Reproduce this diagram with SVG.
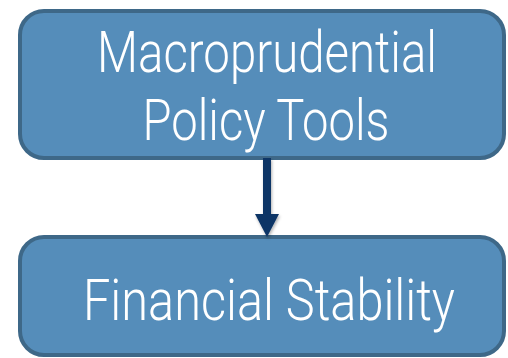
<svg xmlns="http://www.w3.org/2000/svg" width="508" height="358" viewBox="0 0 508 358">
  <style>
    .box { fill: #558dba; stroke: #3e6888; stroke-width: 4; }
    .label { font-family: Roboto, "Liberation Sans Narrow", "Liberation Sans", sans-serif; font-weight: 300; font-size: 57px; fill: #ffffff; text-anchor: middle; }
  </style>
  <defs>
    <filter id="shadow" x="-50%" y="-20%" width="200%" height="150%">
      <feDropShadow dx="1" dy="2" stdDeviation="1.5" flood-color="#000" flood-opacity="0.3"/>
    </filter>
  </defs>

  <g id="node-tools">
    <rect class="box" x="20" y="11" width="484" height="147" rx="24" ry="24"/>
    <text class="label" x="267" y="72" textLength="340" lengthAdjust="spacingAndGlyphs">Macroprudential</text>
    <text class="label" x="266" y="140" textLength="247" lengthAdjust="spacingAndGlyphs">Policy Tools</text>
  </g>

  <g id="node-stability">
    <rect class="box" x="20" y="237" width="484" height="118" rx="24" ry="24"/>
    <text class="label" x="269" y="320" textLength="372" lengthAdjust="spacingAndGlyphs">Financial Stability</text>
  </g>

  <g id="connectors">
    <path d="M263 158 L271 158 L271 214 L279 214 L267 237 L255 214 L263 214 Z" fill="#0b3466" filter="url(#shadow)"/>
  </g>
</svg>
